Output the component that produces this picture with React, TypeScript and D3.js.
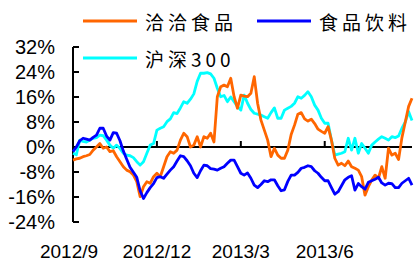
import React from 'react'
import * as d3 from 'd3'

// cumulative relative return (%), sampled about every 2-3 trading days
const qiaqia = [
  -4.2, -3.8, -3.6, -3.1, -2.8, -2.4, -1, 0, 1.1, -0.4, 0, -1.5, -1.2, -3.1, -4.7, -6.3, -7.4, -7.9, -9, -11.1,
  -15.9, -12.7, -11.1, -11.6, -9.5, -8.4, -9.5, -6.3, -3.1, -1.5, -2, -1, 2.2, 4.4, 3.3, 0, 0.6, 3.3, 0, 3.3,
  2.8, 4.4, 1.6, 16.1, 19.3, 19.8, 19.3, 22, 16.1, 12.4, 16.6, 16.3, 16.1, 17.2, 22.5, 14, 8.6, 5.4, 2.2, -3.1,
  -0.4, -2.6, -3.6, -3.6, -1, 4, 7, 10.5, 11, 9, 8.3, 8.9, 7.5, 5.7, 5, 4.4, 6.5, 2.2, -3.6, -5.8,
  -5.2, -6, -4.5, -6.3, -6.8, -7.4, -9.5, -15.4, -12.7, -10.6, -9, -10, -6.3, -10, -0.4, -2.6, -2, -4, 3, 8,
  13, 15.6,
]
const shipin = [
  -1.5, 0, 2, 2.8, 2.5, 2.2, 3.1, 3.8, 6, 6, 3.5, 2.2, 4.6, 4.4, 2, -1.3, -3.9, -6.5, -8.1, -9.7,
  -14, -16.5, -14.6, -13, -11.7, -9.8, -9.5, -10, -8.7, -7.4, -6.3, -4.5, -2.8, -3.1, -4.4, -6, -8.4, -9.8, -7.6, -5.8,
  -6, -6.9, -7.1, -7.4, -6.8, -6.3, -5.2, -4.2, -4.2, -6.3, -8.4, -9, -8.3, -10, -12.2, -13, -12, -10.8, -11.1, -10.5,
  -10.5, -12.4, -14, -13.7, -11, -9, -9, -8.1, -6.8, -6.5, -6, -6.3, -7.6, -8.4, -9.7, -10.8, -10.8, -13, -15.1, -14.3,
  -12.4, -10.5, -9.7, -9.2, -13.8, -11.7, -12.7, -13.5, -11.3, -10.8, -10.3, -9.7, -11.5, -12.2, -11.6, -11.7, -13, -13, -11.6, -10.8,
  -10, -12.2,
]
const hs300 = [
  -2, -2.5, 2.2, 1.8, 1.6, 2.2, 2.8, 3, 3.8, 3.6, 2.2, 0.6, -0.4, 0.6, -0.5, -2, -2.6, -2.8, -3.4, -4.7,
  -5.8, -4.7, -2, 0.6, 1.1, 5.4, 6, 6.5, 8.1, 9, 11, 10.7, 12.5, 14.5, 14, 15.3, 17, 21, 23.6, 23.6,
  23.8, 23.4, 22, 18.8, 16.1, 16.5, 14.5, 16, 14.5, 13, 11.8, 16.6, 14, 12, 10.8, 10.5, 10.2, 9.7, 9.2, 11,
  12.5, 9.2, 9.2, 11.8, 12.4, 13, 14, 16.1, 15.6, 16.5, 17.7, 16.1, 13.4, 11.8, 9.2, 7.6, 7.6, 2.2, -2.6, -2.3,
  -2, -1.5, 2.8, -1, 2.8, -2, 1.1, -0.4, -2, 0.6, 1.6, 2.5, 3.3, 2.8, 2.2, 3.3, 3, 3.5, 6, 8,
  11.3, 8.5,
]
const seriesNames = ['洽洽食品', '食品饮料', '沪深300']
const seriesColors = ['#FF6600', '#0000FF', '#00FFFF']
const yTicks = [32, 24, 16, 8, 0, -8, -16, -24]
const xLabels = ['2012/9', '2012/12', '2013/3', '2013/6']
// sample index where each quarter starts
const xLabelIdx = [0, 25, 50, 75]

export default function App() {
  const width = 417
  const height = 263
  const x = d3.scaleLinear().domain([0, qiaqia.length - 1]).range([73, 412])
  const y = d3.scaleLinear().domain([-24, 32]).range([222, 47])
  const line = d3.line<number>().x((d, i) => x(i)).y(d => y(d))
  const numFont = '"Liberation Sans", Arial, sans-serif'
  const cjkFont = '"Noto Sans CJK SC", sans-serif'

  const drawOrder = [
    { data: hs300, color: seriesColors[2] },
    { data: qiaqia, color: seriesColors[0] },
    { data: shipin, color: seriesColors[1] },
  ]
  const legend = [
    { name: seriesNames[0], color: seriesColors[0], lx: 83, ly: 21 },
    { name: seriesNames[1], color: seriesColors[1], lx: 257, ly: 21 },
    { name: seriesNames[2], color: seriesColors[2], lx: 83, ly: 58 },
  ]

  return (
    <svg width={width} height={height} style={{ position: 'absolute', left: 0, top: 0, background: '#fff' }}>
      {/* y axis */}
      <line x1={73} x2={73} y1={y(32)} y2={y(-24)} stroke="#000" strokeWidth={2} />
      {yTicks.map(t => (
        <g key={t}>
          <line x1={73} x2={79} y1={y(t)} y2={y(t)} stroke="#000" strokeWidth={2} />
          <text x={55} y={y(t)} dy="0.35em" textAnchor="end" fontFamily={numFont} fontSize={20} fill="#000">
            {t}%
          </text>
        </g>
      ))}
      {/* zero line */}
      <line x1={73} x2={412} y1={y(0)} y2={y(0)} stroke="#000" strokeWidth={2} />
      {xLabelIdx.map((idx, k) => (
        <g key={k}>
          {k > 0 && <line x1={x(idx)} x2={x(idx)} y1={y(0)} y2={y(0) - 6} stroke="#000" strokeWidth={2} />}
          <text x={x(idx) - (k === 0 ? 4 : 0)} y={258} textAnchor="middle" fontFamily={numFont} fontSize={19} fill="#000">
            {xLabels[k]}
          </text>
        </g>
      ))}
      {drawOrder.map((s, k) => (
        <path key={k} d={line(s.data) || ''} fill="none" stroke={s.color} strokeWidth={2.8} strokeLinejoin="round" />
      ))}
      {legend.map(l => (
        <g key={l.name}>
          <line x1={l.lx} x2={l.lx + 54} y1={l.ly} y2={l.ly} stroke={l.color} strokeWidth={3} />
          <text x={l.lx + 62} y={l.ly} dominantBaseline="central" fontFamily={cjkFont} fontSize={19} letterSpacing={4} fill="#000">
            {l.name}
          </text>
        </g>
      ))}
    </svg>
  )
}
